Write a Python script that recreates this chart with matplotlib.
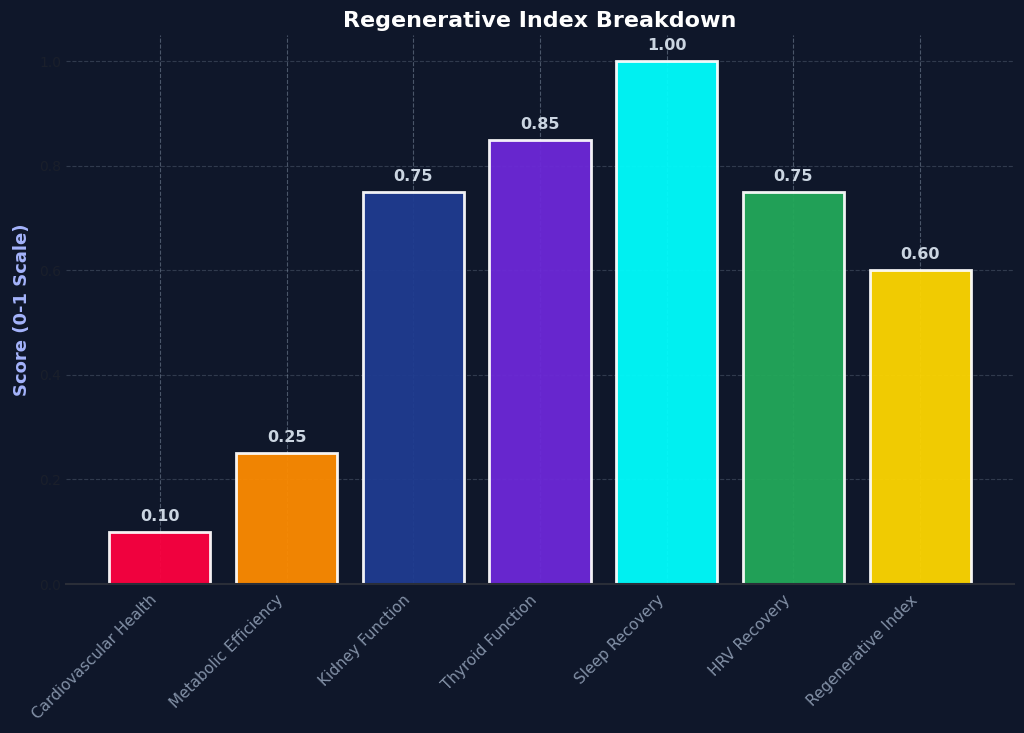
import matplotlib.pyplot as plt

# data
categories = ["Cardiovascular Health", "Metabolic Efficiency", "Kidney Function",
              "Thyroid Function", "Sleep Recovery", "HRV Recovery", "Regenerative Index"]
scores = [0.10, 0.25, 0.75, 0.85, 1.00, 0.75, 0.60]
bar_colors = ["#ff0040", "#ff8c00", "#1f3c91", "#6d28d9", "#00ffff", "#23aa5a", "#ffd700"]

bg = "#0f172a"

fig = plt.figure(figsize=(10.24, 7.33), dpi=100, facecolor=bg)
ax = fig.add_axes([66 / 1024, 1 - 584 / 733, (1014 - 66) / 1024, (584 - 35) / 733])
ax.set_facecolor(bg)

bars = ax.bar(categories, scores, color=bar_colors, edgecolor="white",
              linewidth=2, alpha=0.94, zorder=2)

# value labels on top of each bar
for b, v in zip(bars, scores):
    ax.text(b.get_x() + b.get_width() / 2, v + 0.015, f"{v:.2f}",
            ha="center", va="bottom", color="#cbd5e1", fontsize=11.5, fontweight="bold")

ax.set_title("Regenerative Index Breakdown", color="white", fontsize=16,
             fontweight="bold", pad=6)
ax.set_ylabel("Score (0-1 Scale)", color="#a5b4fc", fontsize=13, fontweight="bold",
              labelpad=6)

# grid sits behind the bars, faintly showing through them
ax.set_axisbelow(True)
ax.grid(True, axis="x", linestyle="--", color="#94a3b8", alpha=0.45, linewidth=0.8)
ax.grid(True, axis="y", linestyle="--", color="#94a3b8", alpha=0.25, linewidth=0.8)

plt.setp(ax.get_xticklabels(), rotation=45, ha="right")
ax.tick_params(axis="x", colors="#8391a7", labelsize=11, length=0, pad=6)
ax.tick_params(axis="y", colors="#1a1f2b", labelsize=10, length=0)
ax.set_yticks([0.0, 0.2, 0.4, 0.6, 0.8, 1.0])

for s in ["top", "right", "left"]:
    ax.spines[s].set_visible(False)
ax.spines["bottom"].set_color("#2a2e38")
ax.spines["bottom"].set_linewidth(1.5)

fig.savefig("out.png", dpi=100, facecolor=bg)
